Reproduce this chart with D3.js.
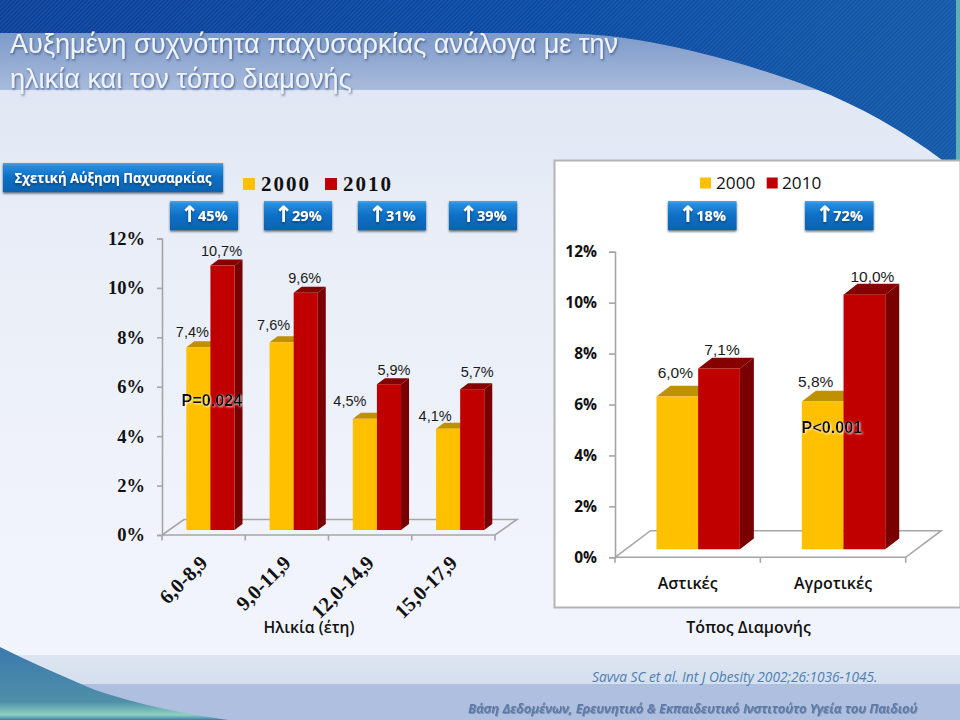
<!DOCTYPE html>
<html lang="el"><head><meta charset="utf-8">
<script src="https://cdn.jsdelivr.net/npm/d3@7/dist/d3.min.js"></script>
<style>html,body{margin:0;padding:0;background:#eef2fa}svg{display:block}
text{font-family:"Liberation Sans",Arial,sans-serif}
.cal{font-family:"Open Sans","Noto Sans",sans-serif}
.ser{font-family:"Liberation Serif",serif;font-weight:700}
</style></head><body><svg id="c" width="960" height="720"></svg>
<script>
const titleLines=["Αυξημένη συχνότητα παχυσαρκίας ανάλογα με την","ηλικία και τον τόπο διαμονής"];
const seriesNames=["2000","2010"];
const ageGroups=["6,0-8,9","9,0-11,9","12,0-14,9","15,0-17,9"];
const age2000=[7.4,7.6,4.5,4.1];
const age2010=[10.7,9.6,5.9,5.7];
const ageIncrease=["45%","29%","31%","39%"];
const places=["Αστικές","Αγροτικές"];
const place2000=[6.0,5.8];
const place2010=[7.1,10.0];
const placeIncrease=["18%","72%"];
const yTicks=[0,2,4,6,8,10,12];

const svg=d3.select("#c"),defs=svg.append("defs");
function grad(id,stops,horizontal){const g=defs.append("linearGradient").attr("id",id).attr("x1",0).attr("y1",0).attr("x2",horizontal?1:0).attr("y2",horizontal?0:1);
 stops.forEach(s=>g.append("stop").attr("offset",s[0]).attr("stop-color",s[1]));}
grad("pale",[[0,"#dbe3f1"],[0.3,"#e8edf7"],[0.7,"#f0f3fb"],[1,"#f2f5fc"]]);
grad("band",[[0,"#7c9ac9"],[1,"#a9bbdb"]]);
grad("dark",[[0,"#0d3f97"],[0.55,"#0b4aa3"],[1,"#1559a6"]],true);
grad("lowband",[[0,"#dde5f1"],[1,"#d5dfee"]]);
grad("teal",[[0,"#3a79ad"],[0.75,"#4f8fa8"],[0.93,"#8fd0c0"],[1,"#3b7fae"]]);
grad("btn",[[0,"#4aa6ea"],[0.1,"#2a8cdc"],[0.5,"#0a6fc6"],[1,"#0a62b0"]]);
const hatch=defs.append("pattern").attr("id","hatch").attr("width",3).attr("height",3).attr("patternUnits","userSpaceOnUse").attr("patternTransform","rotate(-45)");
hatch.append("rect").attr("width",3).attr("height",1).attr("fill","#3f7fc4").attr("opacity",.35);
const sh=defs.append("filter").attr("id","sh").attr("x","-20%").attr("y","-20%").attr("width","140%").attr("height","150%");
sh.append("feDropShadow").attr("dx",0).attr("dy",1.5).attr("stdDeviation",1).attr("flood-color","#12304f").attr("flood-opacity",.75);
const glow=defs.append("filter").attr("id","glow").attr("x","-10%").attr("y","-30%").attr("width","120%").attr("height","160%");
glow.append("feDropShadow").attr("dx",1).attr("dy",1).attr("stdDeviation",.8).attr("flood-color","#ffffff").attr("flood-opacity",.8);
const ts=defs.append("filter").attr("id","ts").attr("x","-5%").attr("y","-20%").attr("width","110%").attr("height","150%");
ts.append("feDropShadow").attr("dx",1).attr("dy",1.5).attr("stdDeviation",.8).attr("flood-color","#26406e").attr("flood-opacity",.7);
const fs=defs.append("filter").attr("id","fs").attr("x","-5%").attr("y","-30%").attr("width","110%").attr("height","170%");
fs.append("feDropShadow").attr("dx",.8).attr("dy",.8).attr("stdDeviation",.5).attr("flood-color","#3a4f78").attr("flood-opacity",.55);

// backdrop
const bg=svg.append("g");
bg.append("rect").attr("width",960).attr("height",720).attr("fill","url(#pale)");
bg.append("rect").attr("y",33).attr("width",960).attr("height",57).attr("fill","url(#band)");
const topCurve="M0,0H960V160H942C905,132 860,106 813,88C765,70 715,55 660,44C620,36 590,33 540,33H0Z";
bg.append("path").attr("d",topCurve).attr("fill","url(#dark)");
bg.append("path").attr("d",topCurve).attr("fill","url(#hatch)");
bg.append("rect").attr("x",956).attr("width",4).attr("height",160).attr("fill","#5fb0b5");
bg.append("rect").attr("y",655).attr("width",960).attr("height",29).attr("fill","url(#lowband)");
bg.append("rect").attr("y",684).attr("width",960).attr("height",36).attr("fill","#aebfdf");
bg.append("path").attr("d","M0,647C30,662 60,675 95,690C140,705 180,713 228,720H0Z").attr("fill","url(#teal)");

// title
svg.append("g").attr("filter","url(#ts)").selectAll("text").data(titleLines).join("text")
 .attr("x",10).attr("y",(d,i)=>53+i*35).attr("font-size",27.1).attr("fill","#eef3fa").text(d=>d);

function button(g,x,y,w,h,txt,size,arrow,fit){
 g.append("rect").attr("x",x).attr("y",y).attr("width",w).attr("height",h).attr("fill","url(#btn)").attr("filter","url(#sh)");
 const t=g.append("text").attr("class","cal").attr("x",x+w/2).attr("y",y+h/2+size*.36).attr("text-anchor","middle")
  .attr("font-size",size).attr("font-weight",700).attr("fill","#fff").attr("filter","url(#sh)");
 if(arrow) t.append("tspan").attr("font-size",size*1.55).attr("font-weight",700).attr("font-family","DejaVu Sans").attr("dy",1).text("↑");
 t.append("tspan").attr("dy",arrow?-1:0).attr("dx",arrow?-1:0).text(txt);
 if(fit) t.attr("textLength",fit).attr("lengthAdjust","spacingAndGlyphs");
}

function chart(o){
 const g=svg.append("g");
 const y=d3.scaleLinear().domain([0,12]).range([o.y0,o.y12]);
 const x=d3.scaleBand().domain(o.cats).range([o.x0,o.x1]);
 g.append("path").attr("d",d3.line()([[o.x0,o.y0],[o.x0+o.fx,o.y0-o.fy],[o.x1+o.fx,o.y0-o.fy],[o.x1,o.y0],[o.x0,o.y0]]))
  .attr("fill","none").attr("stroke","#a6a6a6").attr("stroke-width",1.6);
 const ax=g.append("g").attr("transform",`translate(${o.x0},0)`).call(d3.axisLeft(y).tickValues(yTicks).tickFormat(d=>d+"%").tickSize(o.ts).tickPadding(o.tp));
 ax.selectAll("line,path").attr("stroke","#a6a6a6").attr("stroke-width",1.6);
 ax.selectAll("text").attr("class",o.tickClass).attr("font-size",o.tickSize).attr("font-weight",700).attr("fill","#111");
 const edges=o.cats.map(c=>x(c)).concat(o.x1);
 g.selectAll(".xt").data(edges).join("line").attr("x1",d=>d).attr("x2",d=>d).attr("y1",o.y0).attr("y2",o.y0+5.5).attr("stroke","#a6a6a6").attr("stroke-width",1.6);
 const b=o.barW, yb=v=>y(v)-o.lift;
 const series=[{vals:o.a,off:-b,f:"#ffc000",top:"#bf9000",side:"#bf9000"},{vals:o.b,off:0,f:"#c00000",top:"#860000",side:"#780000"}];
 o.cats.forEach((c,i)=>{
  const cx=x(c)+x.bandwidth()/2+o.shift;
  series.forEach(s=>{
   const v=s.vals[i],l=cx+s.off,r=l+b,t=yb(v),bt=yb(0),dx=o.dx,dy=o.dy;
   const P=d3.line();
   g.append("path").attr("d",P([[r,t],[r+dx,t-dy],[r+dx,bt-dy],[r,bt]])+"Z").attr("fill",s.side);
   g.append("path").attr("d",P([[l,t],[l+dx,t-dy],[r+dx,t-dy],[r,t]])+"Z").attr("fill",s.top);
   g.append("rect").attr("x",l).attr("y",t).attr("width",b).attr("height",bt-t).attr("fill",s.f);
  });
 });
 const fmt=v=>v.toFixed(1).replace(".",",")+"%";
 o.cats.forEach((c,i)=>{
  const cx=x(c)+x.bandwidth()/2+o.shift;
  series.forEach((s,k)=>{
   const off=o.lab[k][i];
   g.append("text").attr("x",cx+s.off+b/2+off[0]).attr("y",yb(s.vals[i])+off[1]).attr("text-anchor","middle")
    .attr("font-size",o.labSize).attr("fill","#1a1a1a").attr("dy",".35em").text(fmt(s.vals[i]));
  });
 });
 return {x,y};
}

const left=chart({cats:ageGroups,a:age2000,b:age2010,x0:162,x1:495,y0:535,y12:238.5,lift:5,shift:6.8,barW:24.1,dx:8,dy:6,fx:22,fy:15.5,ts:5,tp:12,
 tickClass:"ser",tickSize:18.5,labSize:14.5,
 lab:[[[-6,-15],[-8,-17],[-15,-18],[-13,-13]],[[-1,-15],[-1,-15],[5,-14],[5,-17]]]});

// white panel sits behind the right-hand chart
svg.append("rect").attr("x",554.5).attr("y",160.5).attr("width",406).attr("height",447).attr("fill","#fff").attr("stroke","#b4b4b4").attr("stroke-width",2);

const right=chart({cats:places,a:place2000,b:place2010,x0:615,x1:905.7,y0:557.3,y12:251.7,lift:8,shift:10.5,barW:41.7,dx:14,dy:10.8,fx:35.5,fy:26.6,ts:6,tp:12,
 tickClass:"cal",tickSize:15.5,labSize:15.5,
 lab:[[[-2,-24],[-7,-20]],[[3,-19],[8,-18]]]});

// left category labels
svg.append("g").selectAll("text").data(ageGroups).join("text").attr("class","ser")
 .attr("transform",d=>`translate(${left.x(d)+left.x.bandwidth()/2-5},554) rotate(-45)`)
 .attr("text-anchor","end").attr("dy",".7em").attr("font-size",20.5).attr("fill","#111").text(d=>d);
// right category labels
svg.append("g").selectAll("text").data(places).join("text").attr("class","cal")
 .attr("x",d=>right.x(d)+right.x.bandwidth()/2).attr("y",589).attr("text-anchor","middle")
 .attr("font-size",16).attr("font-weight",600).attr("fill","#111").text(d=>d);
svg.append("text").attr("class","cal").attr("x",309).attr("y",633).attr("text-anchor","middle").attr("font-size",15.6).attr("font-weight",600).attr("fill","#111").text("Ηλικία (έτη)");
svg.append("text").attr("class","cal").attr("x",748.5).attr("y",633).attr("text-anchor","middle").attr("font-size",16).attr("font-weight",600).attr("fill","#111").text("Τόπος Διαμονής");

// p values
[["P=0.024",212,405.5],["P<0.001",832,433]].forEach(p=>svg.append("text").attr("x",p[1]).attr("y",p[2]).attr("text-anchor","middle")
 .attr("font-size",16.2).attr("font-weight",700).attr("fill","#111").attr("filter","url(#glow)").text(p[0]));

// buttons
const bt=svg.append("g");
button(bt,3,163,220,29,"Σχετική Αύξηση Παχυσαρκίας",15,false,197);
[170,264,358,449].forEach((bx,i)=>button(bt,bx,201,68,29,ageIncrease[i],14.5,true));
[668,805].forEach((bx,i)=>button(bt,bx,201,68.5,29,placeIncrease[i],14.5,true));

// legends
const colors=["#ffc000","#c00000"];
const lg=svg.append("g");
seriesNames.forEach((n,i)=>{
 lg.append("rect").attr("x",243+i*82).attr("y",178).attr("width",12).attr("height",12).attr("fill",colors[i]);
 lg.append("text").attr("class","ser").attr("x",261+i*82).attr("y",191).attr("font-size",21).attr("letter-spacing",2).attr("fill","#111").text(n);
 lg.append("rect").attr("x",700+i*66.7).attr("y",177.5).attr("width",11).attr("height",11).attr("fill",colors[i]);
 lg.append("text").attr("class","cal").attr("x",716+i*66).attr("y",189).attr("font-size",17.2).attr("font-weight",500).attr("fill","#111").text(n);
});

// source and footer
svg.append("text").attr("class","cal").attr("x",592).attr("y",682).attr("font-size",13.7).attr("font-style","italic").attr("fill","#4f7fb0").text("Savva SC et al. Int J Obesity 2002;26:1036-1045.");
svg.append("text").attr("class","cal").attr("x",468).attr("y",713).attr("font-size",13).attr("font-style","italic").attr("font-weight",600).attr("fill","#5c79a6").attr("filter","url(#fs)").text("Βάση Δεδομένων, Ερευνητικό & Εκπαιδευτικό Ινστιτούτο Υγεία του Παιδιού");
</script></body></html>
